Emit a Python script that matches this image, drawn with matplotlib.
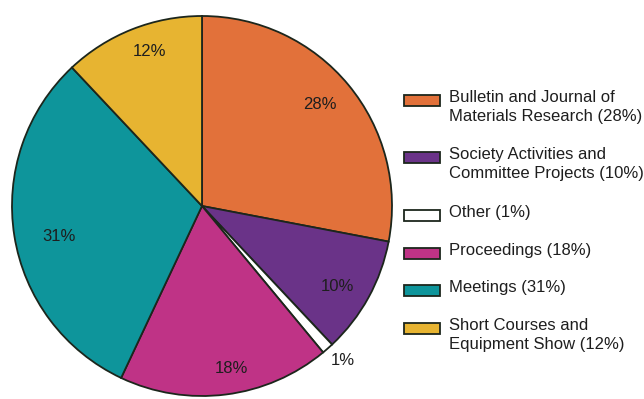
import matplotlib
matplotlib.use("Agg")
import matplotlib.pyplot as plt
from matplotlib.patches import Rectangle
import numpy as np

# ── data ──────────────────────────────────────────────────────────────
categories = [
    "Bulletin and Journal of\nMaterials Research (28%)",
    "Society Activities and\nCommittee Projects (10%)",
    "Other (1%)",
    "Proceedings (18%)",
    "Meetings (31%)",
    "Short Courses and\nEquipment Show (12%)",
]
shares = [28, 10, 1, 18, 31, 12]
colors = ["#E2713A", "#6A3388", "#FFFFFF", "#BF3386", "#0E959B", "#E7B431"]

# label placement: (radius fraction, angle shift in degrees from wedge middle)
lab_pos = [(0.82, 1.0), (0.83, -1.7), (1.10, 1.0), (0.87, 3.0), (0.77, 3.0), (0.86, -3.0)]

plt.rcParams["font.family"] = ["Liberation Sans Narrow", "Liberation Sans", "DejaVu Sans"]
EDGE = "#1c261c"
TXT = "#1e1e1e"

W, H = 644, 399
fig = plt.figure(figsize=(W / 100, H / 100), dpi=100)

cx, cy, r = 202, 206, 190
ax = fig.add_axes([(cx - r) / W, (H - cy - r) / H, 2 * r / W, 2 * r / H])
wedges, _ = ax.pie(shares, colors=colors, startangle=90, counterclock=False,
                   wedgeprops=dict(edgecolor=EDGE, linewidth=1.3))
ax.set_xlim(-1, 1); ax.set_ylim(-1, 1); ax.set_aspect("equal")

for w, v, (rf, da) in zip(wedges, shares, lab_pos):
    a = np.deg2rad((w.theta1 + w.theta2) / 2 + da)
    ax.text(rf * np.cos(a), rf * np.sin(a), f"{v}%", ha="center", va="center",
            fontsize=12, color=TXT)

# ── legend (manual, patch aligned with first text line) ───────────────
lax = fig.add_axes([0, 0, 1, 1])
lax.set_xlim(0, W); lax.set_ylim(H, 0); lax.axis("off")
row_y = [100, 157, 215, 253, 290, 328]
for y, lab, c in zip(row_y, categories, colors):
    lax.add_patch(Rectangle((404, y - 5.5), 36, 11, facecolor=c,
                            edgecolor=EDGE, linewidth=1.3))
    lax.text(449, y - 10, lab, ha="left", va="top", fontsize=12,
             color=TXT, linespacing=1.3)

fig.savefig("out.png", dpi=100, facecolor="white")
